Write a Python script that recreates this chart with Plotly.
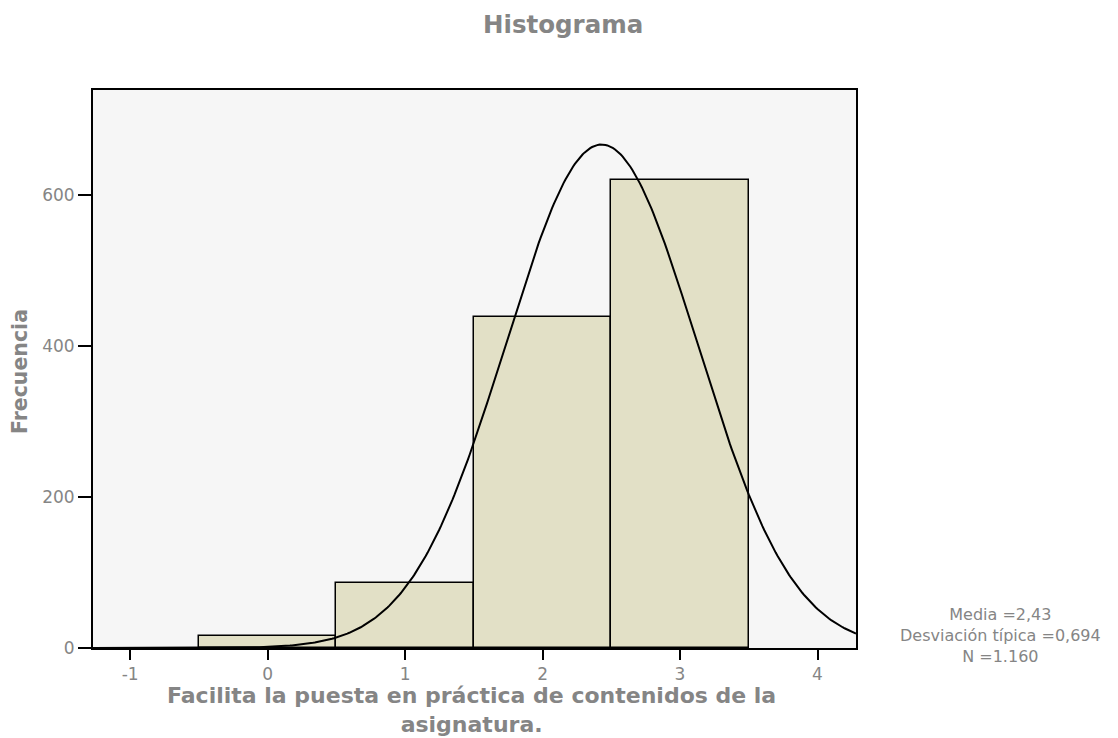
import numpy as np
import plotly.graph_objects as go

# Frequency table of the item (response categories 0..3)
categories = [0, 1, 2, 3]
frequencies = [16, 86, 438, 620]

# Summary statistics shown next to the plot
media = 2.43
desviacion = 0.694
n_total = 1160
stats_lines = ["Media =2,43", "Desviación típica =0,694", "N =1.160"]

x_ticks = [-1, 0, 1, 2, 3, 4]
y_ticks = [0, 200, 400, 600]

x_title_lines = ["Facilita la puesta en práctica de contenidos de la", "asignatura."]

# Fitted normal curve scaled to counts (bin width = 1)
xs = np.linspace(-1.27, 4.28, 400)
ys = n_total * np.exp(-0.5 * ((xs - media) / desviacion) ** 2) / (desviacion * np.sqrt(2 * np.pi))

font_family = "DejaVu Sans, Liberation Sans, Arial, sans-serif"
gray = "#858585"

# plot area in pixels
L, R, T, B = 93, 856, 90, 648
W, H = 1118, 738


def px(x):
    return (x - L) / (R - L)


def py(y):
    return (B - y) / (B - T)


fig = go.Figure()
fig.add_trace(go.Bar(
    x=categories, y=frequencies, width=1,
    marker=dict(color="#e2e0c6", line=dict(color="black", width=1.5)),
    hoverinfo="x+y", showlegend=False,
))
fig.add_trace(go.Scatter(
    x=xs, y=ys, mode="lines",
    line=dict(color="black", width=2), showlegend=False, hoverinfo="skip",
))

fig.update_layout(
    width=W, height=H,
    margin=dict(l=L, r=W - R, t=T, b=H - B),
    paper_bgcolor="white", plot_bgcolor="#f6f6f6",
    font=dict(family=font_family, color=gray, size=17),
    bargap=0,
)
fig.update_xaxes(
    range=[-1.27, 4.28], tickvals=x_ticks, ticktext=[str(v) for v in x_ticks],
    showgrid=False, zeroline=False,
    showline=True, mirror=True, linecolor="black", linewidth=2,
    ticks="outside", ticklen=10, tickwidth=2, tickcolor="black",
    tickfont=dict(size=17, color=gray),
)
fig.update_yaxes(
    range=[0, 739], tickvals=y_ticks, ticktext=[str(v) for v in y_ticks],
    showgrid=False, zeroline=False,
    showline=True, mirror=True, linecolor="black", linewidth=2,
    ticks="outside", ticklen=13, tickwidth=2, tickcolor="black",
    tickfont=dict(size=17, color=gray),
)

# Title
fig.add_annotation(xref="paper", yref="paper", x=px(563), y=py(24), xanchor="center", yanchor="middle",
                   text="<b>Histograma</b>", showarrow=False, font=dict(size=24.5, color=gray))

# X axis title (two lines)
fig.add_annotation(xref="paper", yref="paper", x=px(471), y=py(710), xanchor="center", yanchor="middle",
                   text="<b>" + "<br>".join(x_title_lines) + "</b>", showarrow=False,
                   font=dict(size=22, color=gray))

# Y axis title
fig.add_annotation(xref="paper", yref="paper", x=px(20), y=py(372), xanchor="center", yanchor="middle",
                   text="<b>Frecuencia</b>", textangle=-90, showarrow=False, font=dict(size=20.5, color=gray))

# Summary statistics
fig.add_annotation(xref="paper", yref="paper", x=px(1000), y=py(635), xanchor="center", yanchor="middle",
                   text="<br>".join(stats_lines), showarrow=False, align="center",
                   font=dict(size=16, color=gray))

fig.write_html("out.html")
